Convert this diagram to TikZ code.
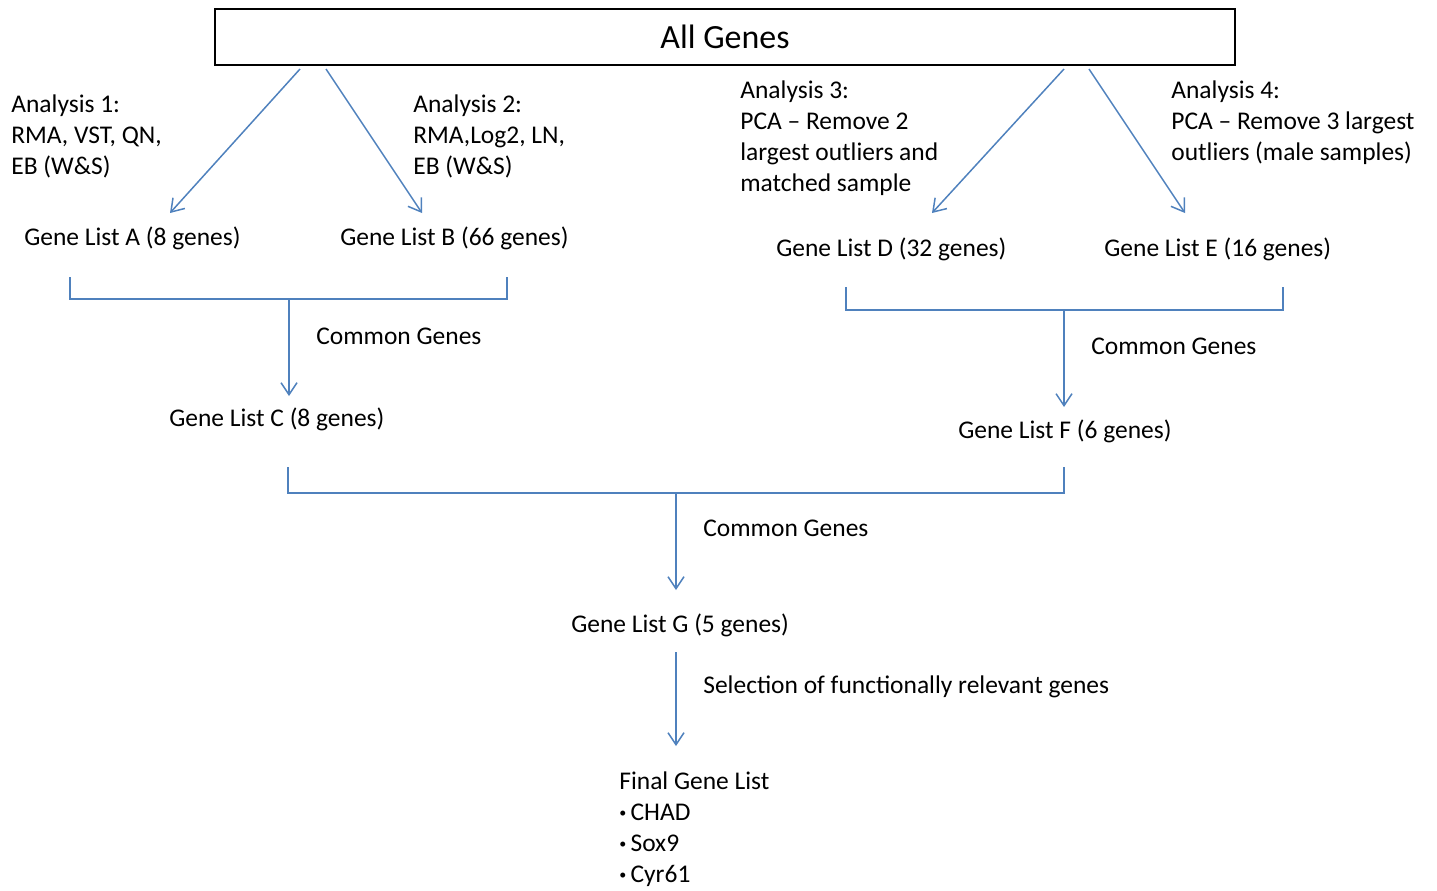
\documentclass[tikz,border=0pt]{standalone}
\usepackage{fontspec}
\setmainfont{Carlito}
\usetikzlibrary{arrows.meta}
\newcommand{\genebullet}{\raisebox{0.25ex}{\footnotesize\textbullet}\,}
\tikzset{
  flowarrow/.style={draw=flowblue, line width=0.85pt, -{Straight Barb[length=0.24cm, width=0.32cm]}},
  flowline/.style={draw=flowblue, line width=0.85pt},
  genetext/.style={inner sep=0pt, anchor=west, font=\fontsize{14.5}{17.6}\selectfont, align=left}
}
\begin{document}
\begin{tikzpicture}[x=0.02cm, y=-0.02cm]
\definecolor{flowblue}{RGB}{79,129,189}
\useasboundingbox (0,0) rectangle (1437,890);
\node[draw, line width=1.1pt, minimum width=20.4cm, minimum height=1.12cm, font=\fontsize{19.3}{22}\selectfont] (allgenes) at (725,37) {All Genes};
\node[genetext] (analysisone) at (11,136) {Analysis 1:\\RMA, VST, QN,\\EB (W\&S)};
\node[genetext] (analysistwo) at (413,136) {Analysis 2:\\RMA,Log2, LN,\\EB (W\&S)};
\node[genetext] (analysisthree) at (740,138.5) {Analysis 3:\\PCA -- Remove 2\\largest outliers and\\matched sample};
\node[genetext] (analysisfour) at (1171,123) {Analysis 4:\\PCA -- Remove 3 largest\\outliers (male samples)};
\node[genetext] (listA) at (24,238) {Gene List A (8 genes)};
\node[genetext] (listB) at (340,238) {Gene List B (66 genes)};
\node[genetext] (listD) at (776,249) {Gene List D (32 genes)};
\node[genetext] (listE) at (1104,249) {Gene List E (16 genes)};
\node[genetext] (commonAB) at (316,336) {Common Genes};
\node[genetext] (listC) at (169,419) {Gene List C (8 genes)};
\node[genetext] (commonDE) at (1091,346) {Common Genes};
\node[genetext] (listF) at (958,431) {Gene List F (6 genes)};
\node[genetext] (commonCF) at (703,528) {Common Genes};
\node[genetext] (listG) at (571,625) {Gene List G (5 genes)};
\node[genetext] (selection) at (703,687) {Selection of functionally relevant genes};
\node[genetext] (finallist) at (619,829) {Final Gene List\\\genebullet CHAD\\\genebullet Sox9\\\genebullet Cyr61};
\coordinate (startA) at (300,69);
\coordinate (endA) at (170,213);
\coordinate (startB) at (326,69);
\coordinate (endB) at (422,213);
\coordinate (startD) at (1064,69);
\coordinate (endD) at (932,213);
\coordinate (startE) at (1089,69);
\coordinate (endE) at (1185,213);
\draw[flowarrow] (startA) -- (endA);
\draw[flowarrow] (startB) -- (endB);
\draw[flowarrow] (startD) -- (endD);
\draw[flowarrow] (startE) -- (endE);
\draw[flowline] (70,277) -- (70,299) -- (507,299) -- (507,277);
\coordinate (midAB) at (289,299);
\coordinate (endC) at (289,396);
\draw[flowarrow] (midAB) -- (endC);
\draw[flowline] (846,287) -- (846,310) -- (1283,310) -- (1283,287);
\coordinate (midDE) at (1064,310);
\coordinate (endF) at (1064,407);
\draw[flowarrow] (midDE) -- (endF);
\draw[flowline] (288,467) -- (288,493) -- (1064,493) -- (1064,467);
\coordinate (midCF) at (676,493);
\coordinate (endG) at (676,590);
\draw[flowarrow] (midCF) -- (endG);
\coordinate (startfinal) at (676,652);
\coordinate (endfinal) at (676,746);
\draw[flowarrow] (startfinal) -- (endfinal);
\end{tikzpicture}
\end{document}
